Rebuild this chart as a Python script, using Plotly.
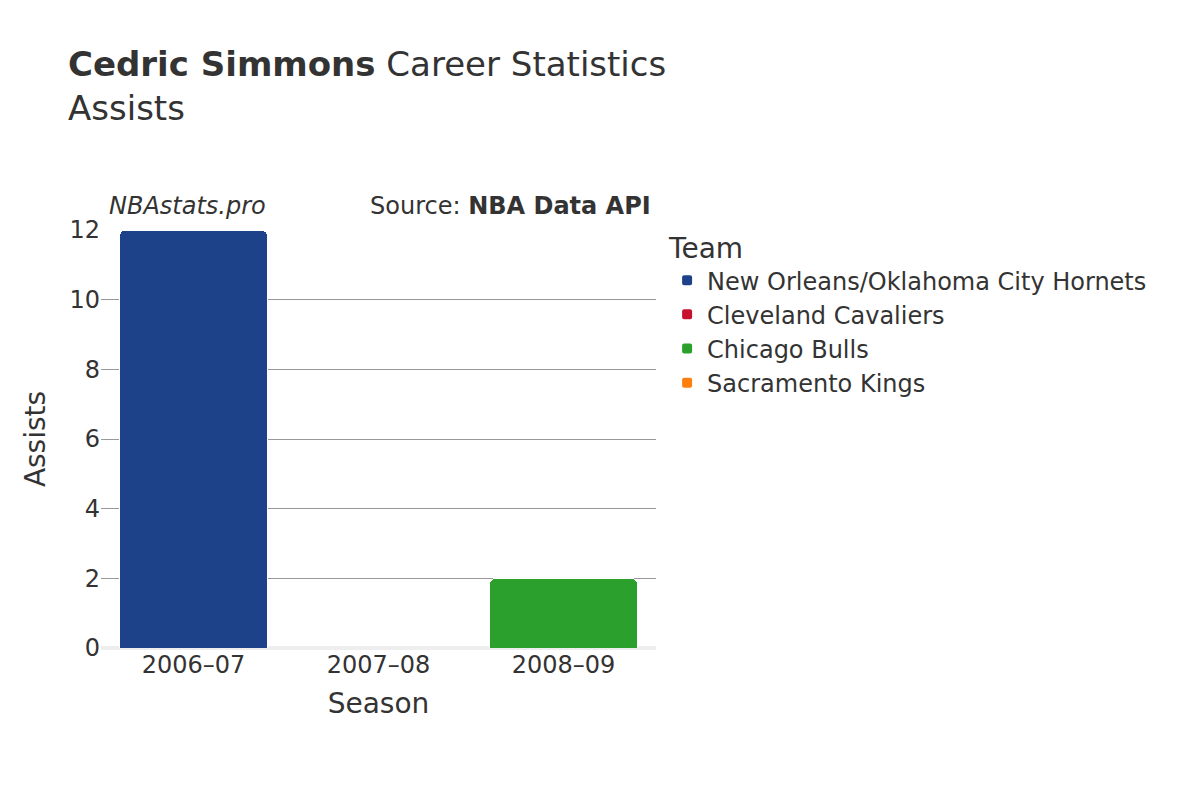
import plotly.graph_objects as go

seasons = ["2006–07", "2007–08", "2008–09"]
teams = ["New Orleans/Oklahoma City Hornets", "Cleveland Cavaliers", "Chicago Bulls", "Sacramento Kings"]
colors = ["#1d428a", "#c8102e", "#2ca02c", "#ff7f0e"]
team_seasons = [["2006–07"], ["2007–08"], ["2008–09"], ["2007–08"]]
team_values = [[12], [0], [2], [0]]

fig = go.Figure()
for t, c, s, v in zip(teams, colors, team_seasons, team_values):
    fig.add_trace(go.Bar(x=s, y=v, name=t, marker=dict(color=c, line=dict(color="white", width=1))))

fig.update_layout(
    width=1200, height=800, barmode="stack", bargap=0.2, barcornerradius=6,
    font=dict(family="DejaVu Sans", color="#333", size=24),
    plot_bgcolor="white", paper_bgcolor="white",
    margin=dict(l=93, r=552, t=222, b=160, autoexpand=False),
    title=dict(text="<b>Cedric Simmons</b> Career Statistics<br>Assists", x=0.05, xanchor="left", y=0.915, yanchor="top",
               pad=dict(l=0), font=dict(size=34)),
    xaxis=dict(title=dict(text="Season", font=dict(size=28)), categoryorder="array", categoryarray=seasons, tickfont=dict(size=24), showgrid=False, automargin=False),
    yaxis=dict(title=dict(text="Assists", font=dict(size=28)), range=[0, 12], tickvals=[0, 2, 4, 6, 8, 10, 12], tickfont=dict(size=24),
               gridcolor="#999", zeroline=True, zerolinecolor="#eee", zerolinewidth=4, automargin=False),
    legend=dict(title=dict(text="Team", font=dict(size=28)), traceorder="normal", x=1.02, y=1.02, yanchor="top",
                font=dict(size=24), itemsizing="constant", tracegroupgap=8),
    annotations=[
        dict(text="<i>NBAstats.pro</i>", xref="paper", yref="paper", x=0.01, y=1.02, xanchor="left", yanchor="bottom", showarrow=False, font=dict(size=24)),
        dict(text="Source: <b>NBA Data API</b>", xref="paper", yref="paper", x=0.995, y=1.02, xanchor="right", yanchor="bottom", showarrow=False, font=dict(size=24)),
    ],
)
fig.write_html("out.html")
